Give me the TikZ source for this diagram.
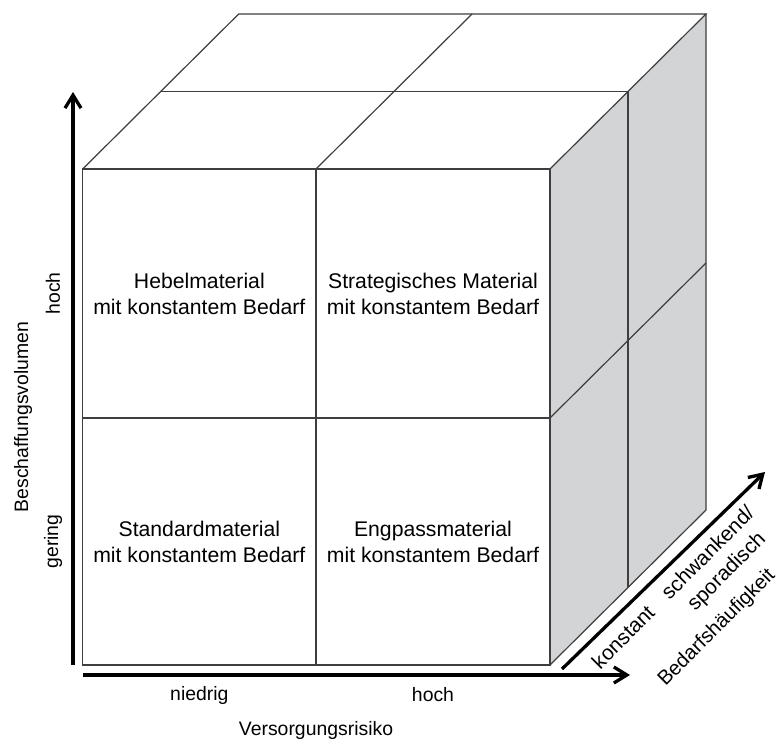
\documentclass[tikz,border=0pt]{standalone}
\usepackage{fontspec}
\setmainfont{Liberation Sans}
\usetikzlibrary{arrows.meta}
\definecolor{sidegray}{RGB}{211,212,214}
\definecolor{edgegray}{RGB}{62,62,62}
\begin{document}
\begin{tikzpicture}[x=0.5pt,y=-0.5pt,
  edge/.style={draw=edgegray, line width=0.6pt},
  axis/.style={line width=1.65pt, -{Straight Barb[length=6.5pt,width=8pt]}},
  celltext/.style={align=center, inner sep=0pt, font=\fontsize{10.6}{13}\selectfont},
  axislabel/.style={inner sep=0pt, font=\fontsize{9.7}{12}\selectfont},
  depthlabel/.style={align=center, inner sep=0pt, rotate=45, font=\fontsize{10.4}{13}\selectfont}]
\useasboundingbox (0,0) rectangle (777,742);

% front face corners
\coordinate (f00) at (82.7,169);  \coordinate (f10) at (316,169);  \coordinate (f20) at (550,169);
\coordinate (f01) at (82.7,418);  \coordinate (f11) at (316,418);  \coordinate (f21) at (550,418);
\coordinate (f02) at (82.7,665);  \coordinate (f12) at (316,665);  \coordinate (f22) at (550,665);
% top face, middle and back rows
\coordinate (t01) at (160.7,91.5); \coordinate (t11) at (394,91.5); \coordinate (t21) at (628,91.5);
\coordinate (t02) at (238.7,14);   \coordinate (t12) at (472,14);   \coordinate (t22) at (706,14);
% right face
\coordinate (r11) at (628,340.5); \coordinate (r12) at (706,263);
\coordinate (r21) at (628,587.5); \coordinate (r22) at (706,510);

% shaded right face
\fill[sidegray] (f20) -- (t22) -- (r22) -- (f22) -- cycle;

% front face grid
\draw[edge] (f00) rectangle (f22);
\draw[edge] (f10) -- (f12);
\draw[edge] (f01) -- (f21);
% top face grid
\draw[edge] (f00) -- (t02) -- (t22) -- (f20);
\draw[edge] (f10) -- (t12);
\draw[edge] (t01) -- (t21);
% right face grid
\draw[edge] (t22) -- (r22) -- (f22);
\draw[edge] (t21) -- (r21);
\draw[edge] (f21) -- (r12);

% cell labels
\node[celltext] (lever) at (199.35,293.5) {Hebelmaterial\\mit konstantem Bedarf};
\node[celltext] (strategic) at (433,293.5) {Strategisches Material\\mit konstantem Bedarf};
\node[celltext] (standard) at (199.35,541.5) {Standardmaterial\\mit konstantem Bedarf};
\node[celltext] (bottleneck) at (433,541.5) {Engpassmaterial\\mit konstantem Bedarf};

% axes
\coordinate (vfrom) at (73,665);   \coordinate (vto) at (73,92);
\coordinate (hfrom) at (83,675);   \coordinate (hto) at (630,675);
\coordinate (dfrom) at (562,669);  \coordinate (dto) at (765,472);
\draw[axis] (vfrom) -- (vto);
\draw[axis] (hfrom) -- (hto);
\draw[axis] (dfrom) -- (dto);

% axis labels
\node[axislabel, rotate=90] (volume) at (23,417) {Beschaffungsvolumen};
\node[axislabel, rotate=90] (volhigh) at (53,293.5) {hoch};
\node[axislabel, rotate=90] (vollow) at (53,541.5) {gering};
\node[axislabel] (risklow) at (199.35,695) {niedrig};
\node[axislabel] (riskhigh) at (433,695) {hoch};
\node[axislabel] (risk) at (316,730) {Versorgungsrisiko};
\node[depthlabel] (steady) at (623,637) {konstant};
\node[depthlabel] (erratic) at (718,563) {schwankend/\\sporadisch};
\node[depthlabel, font=\fontsize{10.1}{13}\selectfont] (frequency) at (717,628) {Bedarfshäufigkeit};
\end{tikzpicture}
\end{document}
